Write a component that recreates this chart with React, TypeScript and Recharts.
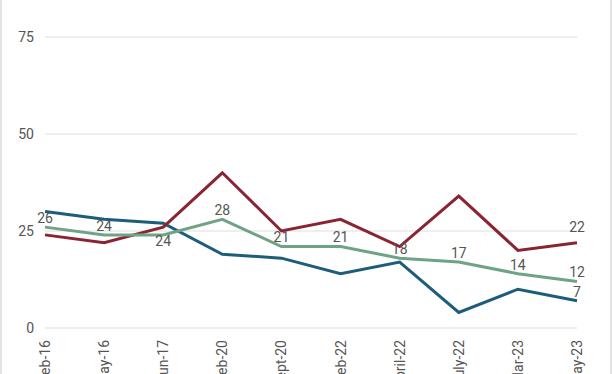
import { LineChart, Line, XAxis, YAxis, CartesianGrid, LabelList } from "recharts";

const months = ["Feb-16", "May-16", "Jun-17", "Feb-20", "Sept-20", "Feb-22", "April-22", "July-22", "Mar-23", "May-23"];
const redValues = [24, 22, 26, 40, 25, 28, 21, 34, 20, 22];
const blueValues = [30, 28, 27, 19, 18, 14, 17, 4, 10, 7];
const greenValues = [26, 24, 24, 28, 21, 21, 18, 17, 14, 12];
const yTicks = [0, 25, 50, 75];

const data = months.map((m, i) => ({
  month: m,
  red: redValues[i],
  blue: blueValues[i],
  green: greenValues[i],
}));

const textColor = "#555";
const fontFamily = "Roboto, sans-serif";

function XTick(props: any) {
  const { x, y, payload } = props;
  return (
    <g transform={`translate(${x},${y + 4})`}>
      <text
        x={0}
        y={0}
        dy={5}
        textAnchor="end"
        transform="rotate(-90)"
        fill={textColor}
        fontSize={14}
        fontFamily={fontFamily}
      >
        {payload.value}
      </text>
    </g>
  );
}

// labels: green everywhere, red and blue only on the last point
function makeLabel(onlyLast: boolean, lift: number) {
  return (props: any) => {
    const { x, y, value, index } = props;
    if (onlyLast && index !== months.length - 1) return null;
    const below = !onlyLast && index === 2;
    return (
      <text
        x={x}
        y={below ? y + 6 : y - lift}
        dy="0.35em"
        textAnchor="middle"
        fill={textColor}
        fontSize={14}
        fontFamily={fontFamily}
      >
        {value}
      </text>
    );
  };
}

export default function App() {
  return (
    <div
      style={{
        position: "absolute",
        left: 0,
        top: 0,
        width: 612,
        height: 374,
        boxSizing: "border-box",
        borderLeft: "2px solid #e2e2e2",
        borderRight: "2px solid #e2e2e2",
        background: "#fff",
        overflow: "hidden",
      }}
    >
      <LineChart
        width={608}
        height={374}
        data={data}
        margin={{ top: 37, right: 33, bottom: 0, left: 0 }}
      >
        <CartesianGrid vertical={false} stroke="#dedede" />
        <XAxis
          dataKey="month"
          axisLine={false}
          tickLine={false}
          interval={0}
          tick={<XTick />}
          height={46}
        />
        <YAxis
          domain={[0, 75]}
          ticks={yTicks}
          axisLine={false}
          tickLine={false}
          width={43}
          tickMargin={5}
          tick={{ fill: textColor, fontSize: 14, fontFamily }}
        />
        <Line
          dataKey="blue"
          stroke="#1d5d7c"
          strokeWidth={3}
          dot={false}
          isAnimationActive={false}
        >
          <LabelList dataKey="blue" content={makeLabel(true, 9)} />
        </Line>
        <Line
          dataKey="red"
          stroke="#8a2433"
          strokeWidth={3}
          dot={false}
          isAnimationActive={false}
        >
          <LabelList dataKey="red" content={makeLabel(true, 16)} />
        </Line>
        <Line
          dataKey="green"
          stroke="#6fa385"
          strokeWidth={3}
          dot={false}
          isAnimationActive={false}
        >
          <LabelList dataKey="green" content={makeLabel(false, 9)} />
        </Line>
      </LineChart>
    </div>
  );
}
